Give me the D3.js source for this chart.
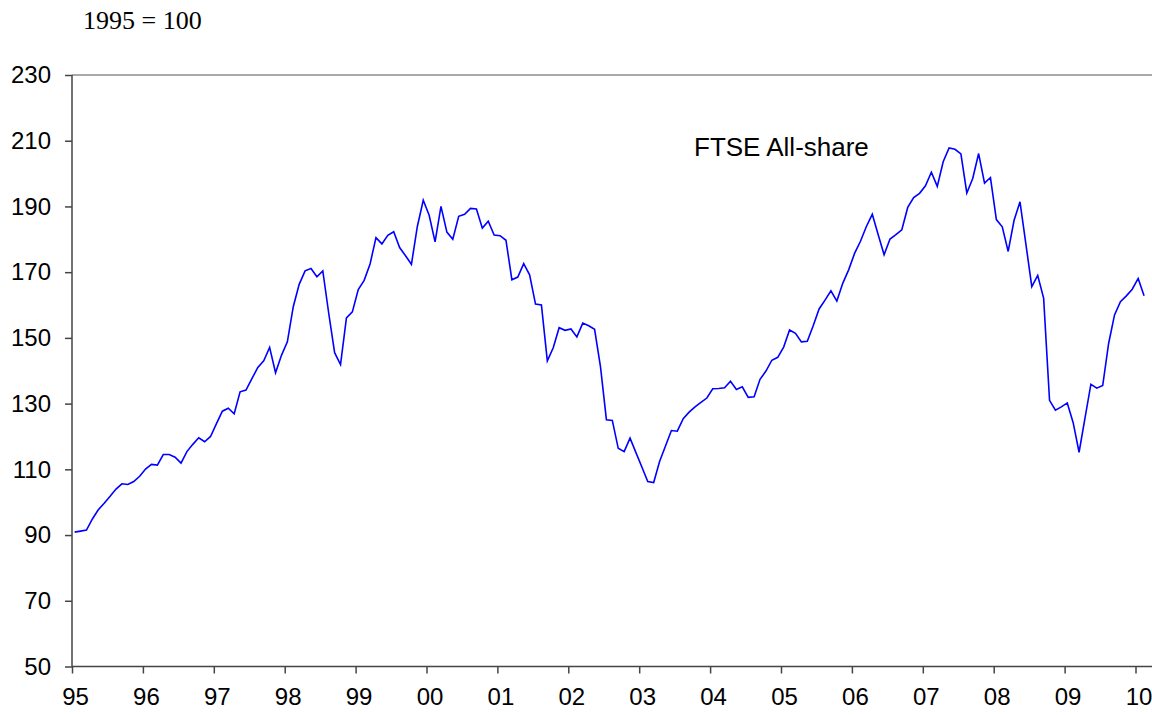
<!DOCTYPE html>
<html>
<head>
<meta charset="utf-8">
<script src="https://cdn.jsdelivr.net/npm/d3@7"></script>
<style>
  html, body { margin: 0; padding: 0; background: #fff; }
  svg { display: block; }
</style>
</head>
<body>
<svg id="chart" width="1152" height="715"></svg>
<script>
// ---- data ----
const startYear = 1995;          // first month: Jan 1995, monthly series
const seriesName = "FTSE All-share";
const subtitle = "1995 = 100";
const ftseValues = [
  90.9, 91.2, 91.5, 94.9, 97.7, 99.7, 101.8, 104.0, 105.6, 105.4, 106.3, 107.9,
  110.1, 111.5, 111.3, 114.5, 114.5, 113.7, 111.9, 115.4, 117.6, 119.6, 118.4, 120.0,
  123.9, 127.7, 128.6, 126.9, 133.6, 134.1, 137.6, 141.0, 143.0, 147.1, 139.4, 144.7,
  148.8, 159.5, 166.3, 170.4, 171.1, 168.6, 170.4, 157.5, 145.5, 141.9, 156.1, 157.9,
  164.7, 167.5, 172.5, 180.5, 178.6, 181.2, 182.3, 177.5, 175.0, 172.4, 183.9, 191.9,
  187.3, 179.2, 190.0, 182.2, 180.0, 187.0, 187.6, 189.4, 189.2, 183.4, 185.5, 181.3,
  181.1, 179.7, 167.7, 168.5, 172.6, 169.2, 160.3, 160.0, 143.0, 147.0, 153.1, 152.3,
  152.7, 150.3, 154.5, 153.7, 152.6, 141.2, 125.1, 124.9, 116.4, 115.4, 119.5, 115.1,
  110.7, 106.3, 106.0, 112.4, 117.1, 121.8, 121.6, 125.4, 127.4, 129.0, 130.4, 131.7,
  134.5, 134.6, 134.8, 136.8, 134.3, 135.1, 131.9, 132.1, 137.4, 139.9, 143.2, 144.1,
  147.2, 152.4, 151.4, 148.8, 149.0, 153.7, 158.8, 161.5, 164.3, 161.2, 166.6, 170.7,
  175.7, 179.4, 183.9, 187.6, 181.4, 175.3, 180.1, 181.4, 182.9, 189.7, 192.7, 194.0,
  196.3, 200.4, 196.1, 203.6, 207.8, 207.4, 206.0, 194.1, 198.5, 206.1, 197.1, 198.8,
  186.0, 183.8, 176.3, 185.8, 191.4, 178.5, 165.6, 169.0, 162.1, 131.0, 128.0, 129.0,
  130.2, 124.2, 115.2, 125.6, 135.9, 134.7, 135.5, 148.3, 157.0, 161.0, 162.8, 164.8,
  168.1, 162.8
];
const yTicks = [50, 70, 90, 110, 130, 150, 170, 190, 210, 230];
const xTickYears = [1995, 1996, 1997, 1998, 1999, 2000, 2001, 2002, 2003, 2004, 2005, 2006, 2007, 2008, 2009, 2010];
const xTickLabels = ["95", "96", "97", "98", "99", "00", "01", "02", "03", "04", "05", "06", "07", "08", "09", "10"];

// ---- layout ----
const plotLeft = 72, plotRight = 1152, plotTop = 75, plotBottom = 666.5;
const yearEnd = 1135.5;   // pixel position of 2010 tick

const svg = d3.select("#chart");
const x = d3.scaleLinear().domain([1995, 2010]).range([plotLeft, yearEnd]);
const y = d3.scaleLinear().domain([50, 230]).range([plotBottom, plotTop]);

const sans = "'Liberation Sans', Arial, Helvetica, sans-serif";
const serif = "'Liberation Serif', 'Times New Roman', Times, serif";

// subtitle
svg.append("text")
  .attr("x", 83).attr("y", 29)
  .attr("font-family", serif).attr("font-size", 26)
  .attr("fill", "#000")
  .text(subtitle);

// top border line at 230
svg.append("line")
  .attr("x1", plotLeft).attr("x2", plotRight)
  .attr("y1", y(230)).attr("y2", y(230))
  .attr("stroke", "#8c8c8c").attr("stroke-width", 1.5);

// y axis
const yAxis = svg.append("g")
  .attr("transform", `translate(${plotLeft},0)`)
  .call(d3.axisLeft(y).tickValues(yTicks).tickSize(7).tickPadding(14).tickFormat(d3.format("d")));
yAxis.select(".domain").remove();
yAxis.append("line")
  .attr("x1", 0).attr("x2", 0).attr("y1", y(230)).attr("y2", y(50))
  .attr("stroke", "#444").attr("stroke-width", 1.5);
yAxis.selectAll(".tick line").attr("stroke", "#444").attr("stroke-width", 1.5);
yAxis.selectAll(".tick text")
  .attr("font-family", sans).attr("font-size", 24).attr("fill", "#000");

// x axis
const xAxis = svg.append("g")
  .attr("transform", `translate(0,${plotBottom})`)
  .call(d3.axisBottom(x).tickValues(xTickYears).tickSize(7).tickPadding(14)
    .tickFormat((d, i) => xTickLabels[i]));
xAxis.select(".domain").remove();
xAxis.append("line")
  .attr("x1", plotLeft).attr("x2", plotRight).attr("y1", 0).attr("y2", 0)
  .attr("stroke", "#444").attr("stroke-width", 1.5);
xAxis.selectAll(".tick line").attr("stroke", "#444").attr("stroke-width", 1.5);
xAxis.selectAll(".tick text")
  .attr("font-family", sans).attr("font-size", 24).attr("fill", "#000")
  .attr("dx", 3);

// series line
const pts = ftseValues.map((v, i) => ({ t: startYear + (i + 0.45) / 12, v }));
const line = d3.line().x(d => x(d.t)).y(d => y(d.v));
svg.append("path")
  .datum(pts)
  .attr("fill", "none")
  .attr("stroke", "#0000ff")
  .attr("stroke-width", 1.6)
  .attr("stroke-linejoin", "miter")
  .attr("d", line);

// series label
svg.append("text")
  .attr("x", 694).attr("y", 156)
  .attr("font-family", sans).attr("font-size", 26).attr("fill", "#000")
  .text(seriesName);
</script>
</body>
</html>
